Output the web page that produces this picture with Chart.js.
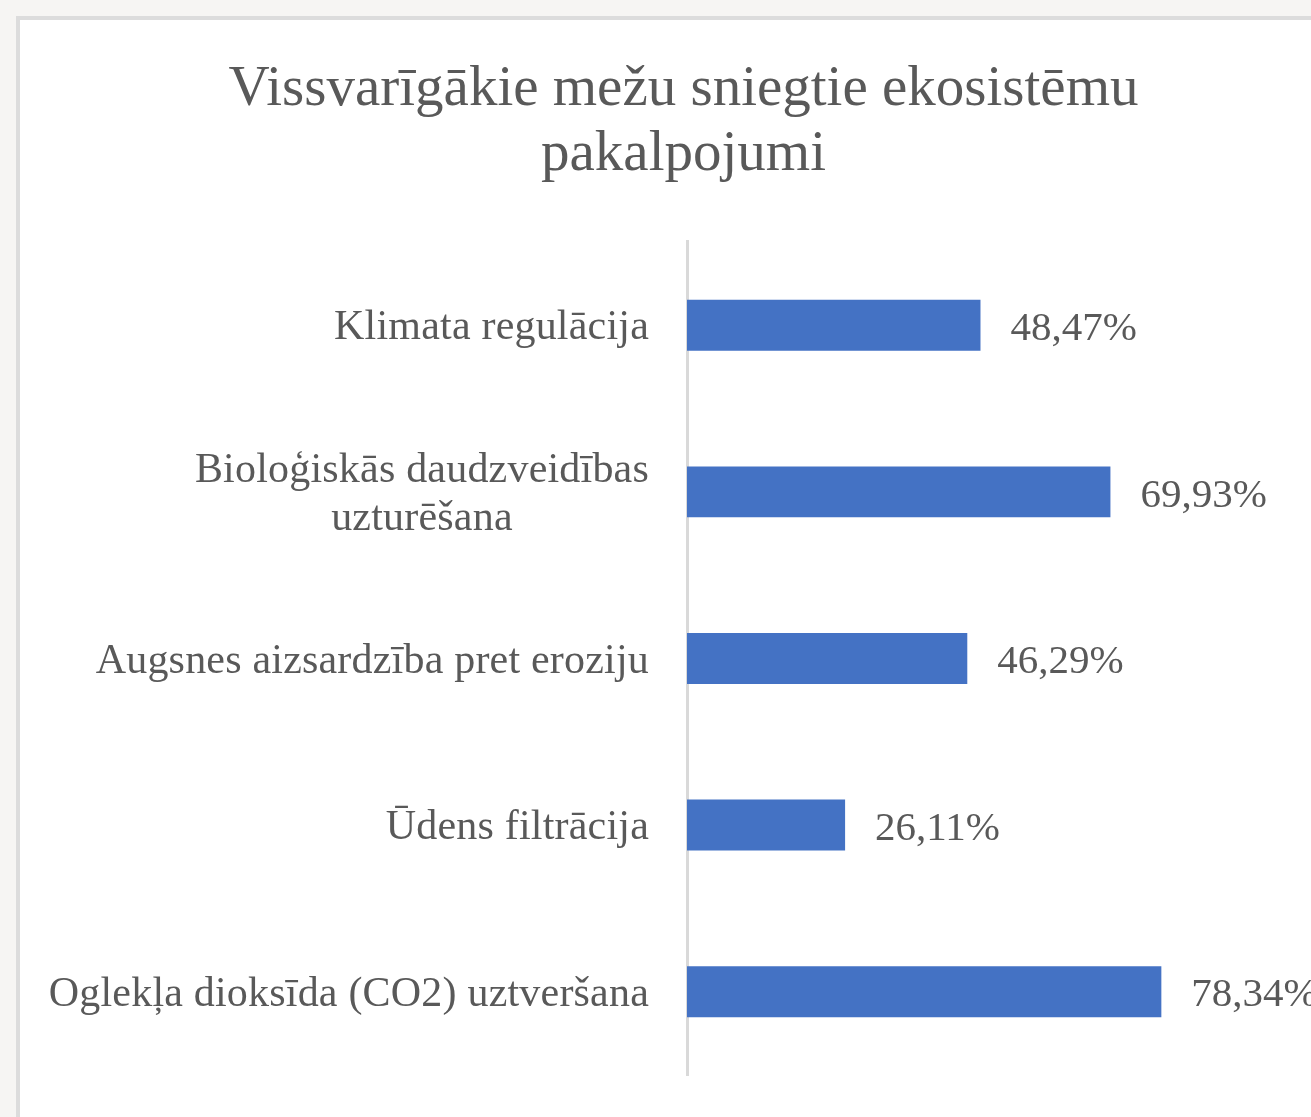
<!DOCTYPE html>
<html>
<head>
<meta charset="utf-8">
<script src="https://cdn.jsdelivr.net/npm/chart.js@4/dist/chart.umd.min.js"></script>
<style>
  html, body { margin:0; padding:0; width:1311px; height:1117px; overflow:hidden; background:#f6f5f3; }
  #panel { position:absolute; left:16px; top:16px; width:1400px; height:1200px; background:#ffffff; border:4px solid #dcdcdc; box-sizing:border-box; }
  #wrap { position:absolute; left:20px; top:20px; width:1327px; height:1097px; }
</style>
</head>
<body>
<div id="panel"></div>
<div id="wrap"><canvas id="c" width="1327" height="1097"></canvas></div>
<script>
const titleLines = ['Vissvarīgākie mežu sniegtie ekosistēmu', 'pakalpojumi'];
const categories = [
  ['Klimata regulācija'],
  ['Bioloģiskās daudzveidības', 'uzturēšana'],
  ['Augsnes aizsardzība pret eroziju'],
  ['Ūdens filtrācija'],
  ['Oglekļa dioksīda (CO2) uztveršana']
];
const values = [48.47, 69.93, 46.29, 26.11, 78.34];
const valueLabels = ['48,47%', '69,93%', '46,29%', '26,11%', '78,34%'];
const axisMax = 109;

const textColor = '#595959';
const serif = '"Liberation Serif", "Times New Roman", serif';

const labelPlugin = {
  id: 'customLabels',
  afterDraw(chart) {
    const ctx = chart.ctx;
    const yScale = chart.scales.y;
    const meta = chart.getDatasetMeta(0);
    ctx.save();
    ctx.fillStyle = textColor;
    ctx.textBaseline = 'middle';
    // category labels
    ctx.font = '42px ' + serif;
    try { ctx.letterSpacing = '0.2px'; } catch (e) {}
    const right = yScale.right - 38;
    const lh = 48;
    categories.forEach((lines, i) => {
      const y = yScale.getPixelForValue(i) + 3;
      const widest = Math.max(...lines.map(l => ctx.measureText(l).width));
      const y0 = y - (lines.length - 1) * lh / 2;
      lines.forEach((l, j) => {
        if (lines.length > 1) {
          ctx.textAlign = 'center';
          ctx.fillText(l, right - widest / 2, y0 + j * lh);
        } else {
          ctx.textAlign = 'right';
          ctx.fillText(l, right, y0 + j * lh);
        }
      });
    });
    // value labels
    ctx.font = '41px ' + serif;
    try { ctx.letterSpacing = '0px'; } catch (e) {}
    ctx.textAlign = 'left';
    meta.data.forEach((bar, i) => {
      ctx.fillText(valueLabels[i], bar.x + 30, bar.y + 4);
    });
    ctx.restore();
  }
};

new Chart(document.getElementById('c'), {
  type: 'bar',
  data: {
    labels: categories,
    datasets: [{
      data: values,
      backgroundColor: '#4472c4',
      borderWidth: 0,
      barPercentage: 0.306,
      categoryPercentage: 1.0
    }]
  },
  options: {
    indexAxis: 'y',
    responsive: false,
    animation: false,
    layout: { padding: { left: 0, right: 0, top: 0, bottom: 42 } },
    plugins: {
      legend: { display: false },
      tooltip: { enabled: false },
      title: {
        display: true,
        text: titleLines,
        color: textColor,
        font: { family: serif, size: 57, weight: 'normal', lineHeight: 1.14 },
        padding: { top: 38, bottom: 54 }
      }
    },
    scales: {
      x: {
        display: false,
        min: 0,
        max: axisMax
      },
      y: {
        grid: { display: false },
        border: { display: true, color: '#d9d9d9', width: 3 },
        ticks: { display: false },
        afterFit(scale) { scale.width = 667; }
      }
    }
  },
  plugins: [labelPlugin]
});
</script>
</body>
</html>
